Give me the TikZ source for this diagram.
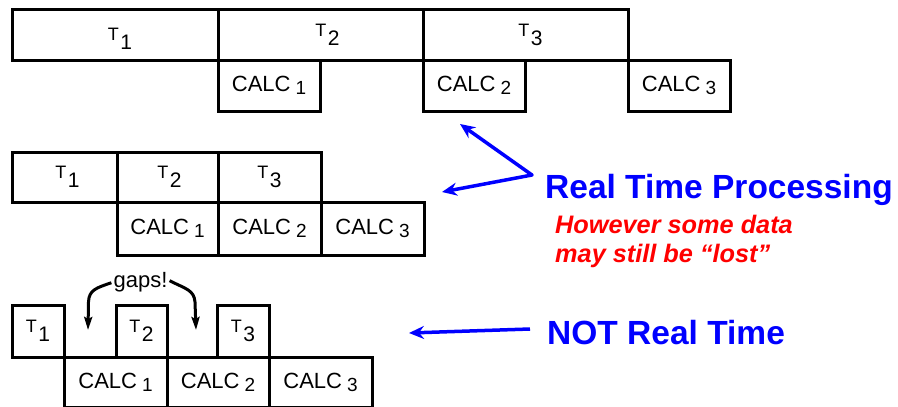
\documentclass[tikz,border=0pt]{standalone}
\usepackage{fontspec}
\setmainfont{Liberation Sans}
\usetikzlibrary{arrows.meta}
\definecolor{rtblue}{RGB}{0,0,255}
\definecolor{rtred}{RGB}{255,0,0}
\newcommand\tlab[1]{{\fontsize{18}{18}\selectfont T}\hspace{1.5pt}\raisebox{-9pt}{\fontsize{21}{21}\selectfont #1}}
\newcommand\clab[1]{{\fontsize{22}{22}\selectfont CALC}\hspace{5pt}\raisebox{-3pt}{\fontsize{19}{19}\selectfont #1}}
\begin{document}
\begin{tikzpicture}[x=1pt,y=-1pt,
  box/.style={draw=black, line width=3pt, rectangle, inner sep=0pt, outer sep=0pt, line join=miter},
  bluearrow/.style={draw=rtblue, line width=3.5pt, -{Stealth[length=15pt,width=13pt,inset=5pt]}},
  gaparrow/.style={draw=black, line width=3pt, -{Stealth[length=13pt,width=8pt,inset=2pt]}},
  bigtext/.style={text=rtblue, font=\bfseries\fontsize{33.5}{33.5}\selectfont, anchor=base west, inner sep=0pt},
  redtext/.style={text=rtred, font=\bfseries\itshape\fontsize{25.3}{25.3}\selectfont, anchor=base west, inner sep=0pt}
]
\useasboundingbox (0,0) rectangle (898,407);
\fill[white] (0,0) rectangle (898,407);

% Row 1
\node[box, minimum width=206pt, minimum height=51pt, text depth=0pt] (r1t1) at (115,34.5) {\hspace{10pt}\tlab{1}};
\node[box, minimum width=205pt, minimum height=51pt] (r1t2) at (320.5,34.5) {\hspace{14pt}\tlab{2}};
\node[box, minimum width=205pt, minimum height=51pt] (r1t3) at (525.5,34.5) {\hspace{10pt}\tlab{3}};
\node[box, minimum width=102pt, minimum height=51pt] (r1c1) at (269,85.5) {\clab{1}};
\node[box, minimum width=102pt, minimum height=51pt] (r1c2) at (474,85.5) {\clab{2}};
\node[box, minimum width=102pt, minimum height=51pt] (r1c3) at (679,85.5) {\clab{3}};

% Row 2
\node[box, minimum width=105pt, minimum height=50pt] (r2t1) at (64.5,177) {\hspace{6pt}\tlab{1}};
\node[box, minimum width=101pt, minimum height=50pt] (r2t2) at (167.5,177) {\hspace{4pt}\tlab{2}};
\node[box, minimum width=103pt, minimum height=50pt] (r2t3) at (269.5,177) {\tlab{3}\hspace{8pt}};
\node[box, minimum width=101pt, minimum height=53pt] (r2c1) at (167.5,228.5) {\clab{1}};
\node[box, minimum width=103pt, minimum height=53pt] (r2c2) at (269.5,228.5) {\clab{2}};
\node[box, minimum width=103pt, minimum height=53pt] (r2c3) at (372.5,228.5) {\clab{3}};

% Row 3
\node[box, minimum width=52pt, minimum height=52pt] (r3t1) at (38,331) {\tlab{1}};
\node[box, minimum width=51pt, minimum height=52pt] (r3t2) at (141.5,331) {\tlab{2}};
\node[box, minimum width=52pt, minimum height=52pt] (r3t3) at (243,331) {\tlab{3}};
\node[box, minimum width=103pt, minimum height=50pt] (r3c1) at (115.5,382) {\clab{1}};
\node[box, minimum width=102pt, minimum height=50pt] (r3c2) at (218,382) {\clab{2}};
\node[box, minimum width=103pt, minimum height=50pt] (r3c3) at (320.5,382) {\clab{3}};

% gaps label and arrows
\node[inner sep=0pt, anchor=base, font=\fontsize{22}{22}\selectfont] (gaps) at (140.5,287) {gaps!};
\coordinate (gapL) at (88,330);
\coordinate (gapR) at (196,330);
\draw[gaparrow] (gaps.west) ++(-2,1) .. controls (96,288) and (89,290) .. (88.5,302) -- (gapL);
\draw[gaparrow] (gaps.east) ++(2,-1) .. controls (186,289) and (194,290) .. (195,302) -- (gapR);

% Real time processing
\coordinate (vtx) at (532,175);
\coordinate (tipA) at (460,124);
\coordinate (tipB) at (442,192);
\draw[bluearrow, line cap=round] (vtx) -- (tipA);
\draw[bluearrow, line cap=round] (vtx) -- (tipB);
\node[bigtext] (rtp) at (545,198) {Real Time Processing};
\node[redtext] (red1) at (555,233.5) {However some data};
\node[redtext] (red2) at (555,262.5) {may still be “lost”};

% Not real time
\coordinate (nrtStart) at (530,329);
\coordinate (nrtTip) at (409,333);
\draw[bluearrow] (nrtStart) -- (nrtTip);
\node[bigtext] (nrt) at (547,344) {NOT Real Time};
\end{tikzpicture}
\end{document}
